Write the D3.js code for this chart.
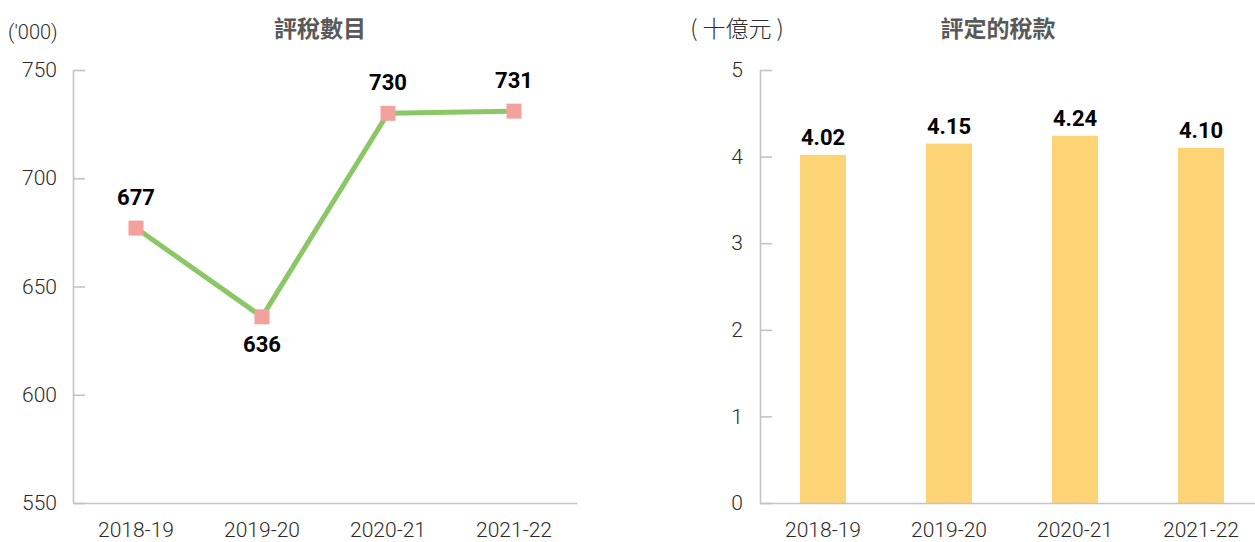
<!DOCTYPE html>
<html>
<head>
<meta charset="utf-8">
<script src="https://cdn.jsdelivr.net/npm/d3@7"></script>
<style>
  html, body { margin: 0; padding: 0; background: #fff; }
  svg { display: block; }
  text { font-family: Roboto, "Open Sans", "Noto Sans CJK TC", sans-serif; }
  .cjk { font-family: "Noto Sans CJK TC", sans-serif; }
</style>
</head>
<body>
<svg id="chart" width="1255" height="542"></svg>
<script>
// Data
const categories = ["2018-19", "2019-20", "2020-21", "2021-22"];
const assessments = [677, 636, 730, 731];          // '000
const taxAssessed = [4.02, 4.15, 4.24, 4.10];      // HK$ billion
const leftTicks = [550, 600, 650, 700, 750];
const rightTicks = [0, 1, 2, 3, 4, 5];
const leftTitle = "評稅數目";
const rightTitle = "評定的稅款";
const leftUnit = "('000)";
const rightUnit = "( 十億元 )";

const svg = d3.select("#chart");
const axisColor = "#c4c4c4";
const tickTextColor = "#2b2b2b";

function styleAxis(g) {
  g.selectAll("path.domain").attr("stroke", axisColor).attr("stroke-width", 1.6);
  g.selectAll(".tick line").attr("stroke", axisColor).attr("stroke-width", 1.6);
  g.selectAll(".tick text").attr("fill", tickTextColor).style("font-size", "21px").style("font-weight", 300);
}

// ---------- Left chart: line ----------
const xL = d3.scaleBand().domain(categories).range([73, 577]).padding(0);
const yL = d3.scaleLinear().domain([550, 750]).range([503, 70]);

const gyL = svg.append("g").attr("transform", "translate(73,0)")
  .call(d3.axisLeft(yL).tickValues(leftTicks).tickFormat(d3.format("d")).tickSizeInner(-12).tickSizeOuter(0).tickPadding(16));
styleAxis(gyL);

const gxL = svg.append("g").attr("transform", "translate(0,503)")
  .call(d3.axisBottom(xL).tickSize(0).tickPadding(19));
styleAxis(gxL);

const cx = d => xL(d) + xL.bandwidth() / 2;
const lineData = categories.map((c, i) => ({ c, v: assessments[i] }));

svg.append("path")
  .datum(lineData)
  .attr("fill", "none")
  .attr("stroke", "#8bc767")
  .attr("stroke-width", 5)
  .attr("d", d3.line().x(d => cx(d.c)).y(d => yL(d.v)));

svg.selectAll("rect.marker").data(lineData).enter().append("rect")
  .attr("class", "marker")
  .attr("x", d => cx(d.c) - 7.5)
  .attr("y", d => yL(d.v) - 7.5)
  .attr("width", 15).attr("height", 15)
  .attr("fill", "#f3a19d");

svg.selectAll("text.lval").data(lineData).enter().append("text")
  .attr("class", "lval")
  .attr("x", d => cx(d.c))
  .attr("y", (d, i) => i === 1 ? yL(d.v) + 35 : yL(d.v) - 23)
  .attr("text-anchor", "middle")
  .style("font-size", "22px").style("font-weight", 700).attr("fill", "#000")
  .text(d => d.v);

svg.append("text").attr("class", "cjk")
  .attr("x", 320).attr("y", 37).attr("text-anchor", "middle")
  .style("font-size", "23px").style("font-weight", 700).attr("fill", "#595959")
  .text(leftTitle);

svg.append("text")
  .attr("x", 8).attr("y", 39)
  .style("font-size", "20px").style("font-weight", 300).attr("fill", tickTextColor)
  .text(leftUnit);

// ---------- Right chart: bars ----------
const xR = d3.scaleBand().domain(categories).range([760, 1264]).paddingInner(0.635).paddingOuter(0.3175);
const yR = d3.scaleLinear().domain([0, 5]).range([503, 70]);

const gyR = svg.append("g").attr("transform", "translate(760,0)")
  .call(d3.axisLeft(yR).tickValues(rightTicks).tickFormat(d3.format("d")).tickSizeInner(-12).tickSizeOuter(0).tickPadding(17));
styleAxis(gyR);

const barData = categories.map((c, i) => ({ c, v: taxAssessed[i] }));

svg.selectAll("rect.bar").data(barData).enter().append("rect")
  .attr("class", "bar")
  .attr("x", d => xR(d.c))
  .attr("y", d => yR(d.v))
  .attr("width", xR.bandwidth())
  .attr("height", d => yR(0) - yR(d.v))
  .attr("fill", "#fcd375");

const gxR = svg.append("g").attr("transform", "translate(0,503)")
  .call(d3.axisBottom(xR).tickSize(0).tickPadding(19));
styleAxis(gxR);

svg.selectAll("text.rval").data(barData).enter().append("text")
  .attr("class", "rval")
  .attr("x", d => xR(d.c) + xR.bandwidth() / 2)
  .attr("y", d => yR(d.v) - 10)
  .attr("text-anchor", "middle")
  .style("font-size", "22px").style("font-weight", 700).attr("fill", "#000")
  .text(d => d.v.toFixed(2));

svg.append("text").attr("class", "cjk")
  .attr("x", 998).attr("y", 37).attr("text-anchor", "middle")
  .style("font-size", "23px").style("font-weight", 700).attr("fill", "#595959")
  .text(rightTitle);

svg.append("text").attr("class", "cjk")
  .attr("x", 737).attr("y", 37).attr("text-anchor", "middle")
  .style("font-size", "23px").style("font-weight", 300).attr("fill", tickTextColor)
  .text(rightUnit);
</script>
</body>
</html>
